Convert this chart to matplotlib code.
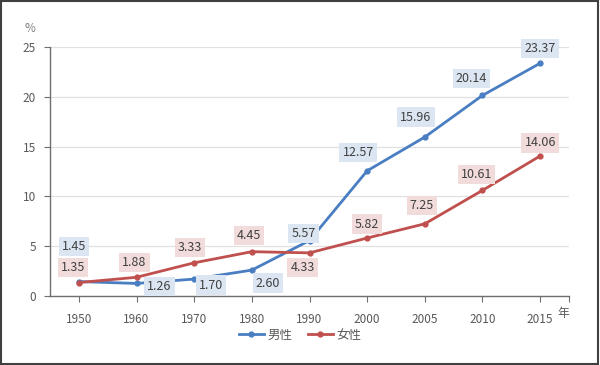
import matplotlib
matplotlib.use("Agg")
import matplotlib.pyplot as plt
from matplotlib.patches import Rectangle
from matplotlib.lines import Line2D

plt.rcParams['font.family'] = ['Noto Sans CJK JP', 'DejaVu Sans']

years = ["1950", "1960", "1970", "1980", "1990", "2000", "2005", "2010", "2015"]
male = [1.45, 1.26, 1.70, 2.60, 5.57, 12.57, 15.96, 20.14, 23.37]
female = [1.35, 1.88, 3.33, 4.45, 4.33, 5.82, 7.25, 10.61, 14.06]
series_names = ["男性", "女性"]

# label offsets in pixels (dx, dy)
male_off = [(-5, 35), (23, -3), (17, -6), (16, -13), (-6, 7), (-9, 18), (-9, 20), (-11, 17), (0, 15)]
female_off = [(-6, 15), (-2, 15), (-4, 15), (-3, 16), (-7, -15), (0, 14), (-3, 18), (-6, 16), (0, 13)]

blue = "#4a7ec2"
red = "#c0504d"
blue_bg = "#dce6f2"
red_bg = "#f2dcdb"
txt = "#404040"
axc = "#595959"

fig = plt.figure(figsize=(6, 3.65), dpi=100)
ax = fig.add_axes([50/600, 69/365, 519/600, 249/365])

x = list(range(len(years)))
ax.plot(x, male, color=blue, lw=2.0, marker='o', ms=3.5, zorder=3)
ax.plot(x, female, color=red, lw=2.0, marker='o', ms=3.5, zorder=3)

for xi, v, (dx, dy) in zip(x, male, male_off):
    ax.annotate(f"{v:.2f}", (xi, v), xytext=(dx, dy), textcoords='offset pixels',
                ha='center', va='center', fontsize=9, color=txt, zorder=4,
                bbox=dict(boxstyle='square,pad=0.25', fc=blue_bg, ec='none'))
for xi, v, (dx, dy) in zip(x, female, female_off):
    ax.annotate(f"{v:.2f}", (xi, v), xytext=(dx, dy), textcoords='offset pixels',
                ha='center', va='center', fontsize=9, color=txt, zorder=4,
                bbox=dict(boxstyle='square,pad=0.25', fc=red_bg, ec='none'))

ax.set_xlim(-0.5, len(years) - 0.5)
ax.set_ylim(0, 25)
ax.set_yticks([0, 5, 10, 15, 20, 25])
ax.set_xticks(x + [len(years) - 0.5])
ax.set_xticklabels(years + [""])
ax.grid(axis='y', color='#e0e0e0', lw=0.9)
ax.set_axisbelow(True)
for s in ['top', 'right']:
    ax.spines[s].set_visible(False)
for s in ['left', 'bottom']:
    ax.spines[s].set_color('#6f6f6f')
    ax.spines[s].set_linewidth(1.0)
ax.tick_params(axis='both', direction='out', length=4, color='#6f6f6f', labelcolor=axc, labelsize=8.5)
ax.tick_params(axis='x', pad=8)
ax.tick_params(axis='y', pad=6)

fig.text(30/600, 1 - 28/365, "%", fontsize=8.5, color='#7f7f7f', ha='center', va='center')
fig.text(563/600, 1 - 314/365, "年", fontsize=8.5, color=axc, ha='center', va='center')

handles = [Line2D([], [], color=blue, lw=2.0, marker='o', ms=3.5),
           Line2D([], [], color=red, lw=2.0, marker='o', ms=3.5)]
fig.legend(handles, series_names, loc='center', bbox_to_anchor=(0.5, 1 - 335/365), ncol=2,
           frameon=False, fontsize=9, labelcolor=axc, handlelength=2.0, columnspacing=1.2,
           handletextpad=0.3)

fig.patches.append(Rectangle((0.002, 0.003), 0.995, 0.994, transform=fig.transFigure,
                             fill=False, ec='#404040', lw=1.5))

fig.savefig("out.png", dpi=100)
